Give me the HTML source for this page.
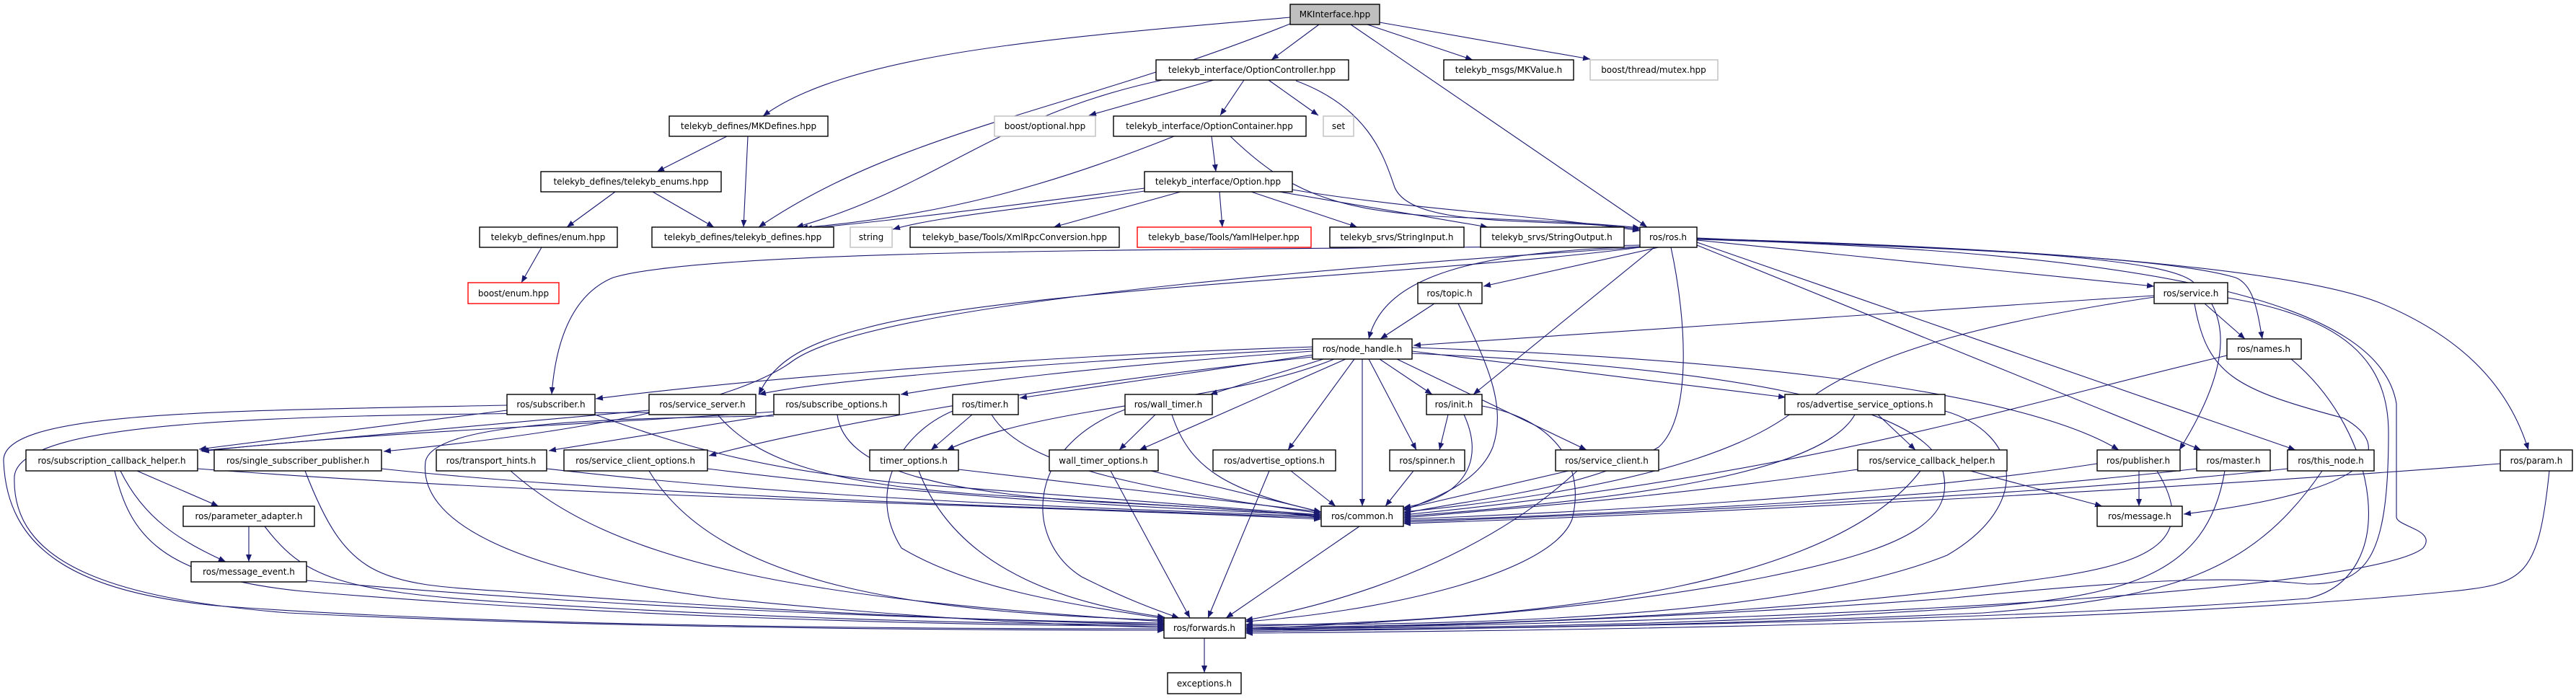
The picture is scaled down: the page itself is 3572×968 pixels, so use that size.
<!DOCTYPE html>
<html><head><meta charset="utf-8"><style>
html,body{margin:0;padding:0;background:#fff;}
svg{display:block}
text{font-family:"DejaVu Sans","Liberation Sans",sans-serif;font-size:12px;fill:#000;text-anchor:middle}
.n{fill:#fff;stroke:#000;stroke-width:1.4}
.g{fill:#fff;stroke:#bfbfbf;stroke-width:1.4}
.r{fill:#fff;stroke:#ff0000;stroke-width:1.4}
.e{fill:none;stroke:#191970;stroke-width:1.1;marker-end:url(#a)}
</style></head><body>
<svg width="3572" height="968" viewBox="0 0 3572 968" xmlns="http://www.w3.org/2000/svg">
<defs><marker id="a" markerUnits="userSpaceOnUse" markerWidth="11" markerHeight="8" refX="10" refY="4" orient="auto"><path d="M0,0 L10,4 L0,8 z" fill="#191970"/></marker></defs>
<g>
<path class="e" d="M1789,24 C1500,50 1180,70 1058,161"/>
<path class="e" d="M1789,33 C1500,150 1250,180 1052,315"/>
<path class="e" d="M1829,34 L1763,83"/>
<path class="e" d="M1873,34 L2284,315"/>
<path class="e" d="M1896,34 L2042,83"/>
<path class="e" d="M1913,31 L2205,82"/>
<path class="e" d="M1008,189 L911,238"/>
<path class="e" d="M1037,189 L1031,315"/>
<path class="e" d="M853,266 L786,315"/>
<path class="e" d="M905,266 L990,315"/>
<path class="e" d="M751,343 L723,392"/>
<path class="e" d="M1612,111 C1380,160 1300,260 1104,315"/>
<path class="e" d="M1683,111 L1510,160"/>
<path class="e" d="M1725,111 L1692,160"/>
<path class="e" d="M1759,111 L1828,160"/>
<path class="e" d="M1797,112 C1900,150 1920,220 1934,260 C1960,320 2150,300 2274,318"/>
<path class="e" d="M1628,189 C1450,260 1300,300 1110,316"/>
<path class="e" d="M1680,189 L1686,238"/>
<path class="e" d="M1706,189 C1780,260 1840,290 1990,300 C2100,305 2200,308 2274,316"/>
<path class="e" d="M1587,261 C1400,285 1250,305 1116,317"/>
<path class="e" d="M1587,265 C1420,290 1300,300 1238,318"/>
<path class="e" d="M1637,266 L1461,315"/>
<path class="e" d="M1691,266 L1695,315"/>
<path class="e" d="M1735,266 L1882,315"/>
<path class="e" d="M1774,266 L2063,315"/>
<path class="e" d="M1792,263 C1950,290 2150,300 2274,320"/>
<path class="e" d="M2300,343 L2057,397"/>
<path class="e" d="M2274,342 C2050,350 1920,380 1898,470"/>
<path class="e" d="M2294,343 L2043,547"/>
<path class="e" d="M2317,343 C2340,450 2345,580 2300,620 C2200,680 2050,690 1946,712"/>
<path class="e" d="M2353,333 L2987,397"/>
<path class="e" d="M2353,330 C2700,345 3000,355 3100,385 C3125,395 3130,430 3137,470"/>
<path class="e" d="M2353,340 L3052,624"/>
<path class="e" d="M2353,336 L3183,624"/>
<path class="e" d="M2353,331 C2900,345 3200,380 3300,420 C3420,470 3480,540 3506,624"/>
<path class="e" d="M2353,331 C2800,345 3000,360 3040,390 C3090,430 3100,500 3022,624"/>
<path class="e" d="M2274,340 C1800,348 1000,340 850,385 C790,410 770,480 765,547"/>
<path class="e" d="M2274,343 C2000,380 1400,400 1200,455 C1100,480 1070,510 1052,547"/>
<path class="e" d="M2274,343 C1700,380 1200,430 1100,500 C1020,560 800,600 532,626"/>
<path class="e" d="M2353,332 C3000,350 3300,420 3323,560 L3323,717 C3323,730 3380,735 3360,760 C3300,810 2700,860 1727,872"/>
<path class="e" d="M3089,413 C3250,440 3312,500 3312,600 C3312,780 3280,810 3200,810 C3100,800 3000,800 2700,830 C2300,860 1900,870 1727,874"/>
<path class="e" d="M3043,421 C3060,520 3100,540 3250,580 C3320,620 3300,680 3028,713"/>
<path class="e" d="M2987,410 C2600,435 2200,460 1960,479"/>
<path class="e" d="M3057,421 L3113,470"/>
<path class="e" d="M2987,412 C2800,440 2600,480 2500,560 C2400,650 2150,690 1946,710"/>
<path class="e" d="M3088,493 C2800,560 2500,660 1946,714"/>
<path class="e" d="M3177,498 C3300,600 3330,800 3200,830 C2800,860 2200,870 1727,876"/>
<path class="e" d="M1989,421 L1914,470"/>
<path class="e" d="M2022,421 C2060,500 2090,560 2070,620 C2050,670 1990,690 1946,708"/>
<path class="e" d="M1820,481 C1400,495 1000,530 826,553"/>
<path class="e" d="M1820,484 C1500,500 1150,525 1052,547"/>
<path class="e" d="M1820,487 C1500,510 1350,530 1249,547"/>
<path class="e" d="M1822,492 L1414,552"/>
<path class="e" d="M1835,498 L1678,547"/>
<path class="e" d="M1850,498 C1700,560 1450,560 1313,624"/>
<path class="e" d="M1866,498 L1580,624"/>
<path class="e" d="M1878,498 L1786,624"/>
<path class="e" d="M1889,498 L1889,702"/>
<path class="e" d="M1898,498 L1964,624"/>
<path class="e" d="M1913,498 L1986,547"/>
<path class="e" d="M1937,498 L2200,624"/>
<path class="e" d="M1958,487 L2476,551"/>
<path class="e" d="M1958,482 C2400,497 2800,540 2938,624"/>
<path class="e" d="M1820,495 C1400,540 1100,600 983,632"/>
<path class="e" d="M1958,490 C2400,510 2650,560 2690,640 C2720,720 2650,760 2450,800 C2200,850 1900,865 1727,872"/>
<path class="e" d="M703,569 L276,623"/>
<path class="e" d="M703,562 C300,570 0,570 5,640 C10,760 100,820 300,840 C700,870 1300,872 1615,872"/>
<path class="e" d="M825,575 C950,620 1050,650 1250,670 C1500,690 1700,705 1832,714"/>
<path class="e" d="M900,569 L278,625"/>
<path class="e" d="M900,572 C400,575 30,580 20,660 C15,780 150,830 400,850 C800,870 1300,874 1615,874"/>
<path class="e" d="M995,575 C1050,640 1150,670 1350,685 C1600,700 1750,708 1832,716"/>
<path class="e" d="M1073,571 C800,590 500,600 280,626"/>
<path class="e" d="M1073,575 L761,625"/>
<path class="e" d="M1161,575 C1170,650 1300,680 1500,695 C1700,705 1780,710 1832,718"/>
<path class="e" d="M1073,577 C800,580 600,590 590,640 C580,720 700,790 1000,830 C1300,860 1500,868 1615,870"/>
<path class="e" d="M190,653 L303,702"/>
<path class="e" d="M167,653 C200,720 250,750 313,779"/>
<path class="e" d="M159,653 C180,740 220,800 420,820 C900,860 1400,868 1615,868"/>
<path class="e" d="M274,650 C800,690 1400,700 1832,720"/>
<path class="e" d="M345,730 L345,779"/>
<path class="e" d="M367,730 C420,800 470,820 700,835 C1100,860 1400,866 1615,866"/>
<path class="e" d="M425,805 C800,840 1300,860 1615,864"/>
<path class="e" d="M423,653 C480,800 520,810 700,820 C1100,850 1400,862 1615,866"/>
<path class="e" d="M529,650 C900,690 1500,705 1832,718"/>
<path class="e" d="M708,653 C850,780 1100,830 1615,862"/>
<path class="e" d="M758,650 C1100,690 1500,705 1832,716"/>
<path class="e" d="M900,653 C1000,820 1300,850 1615,860"/>
<path class="e" d="M981,650 C1300,690 1600,705 1832,714"/>
<path class="e" d="M1348,575 L1291,624"/>
<path class="e" d="M1375,575 C1420,650 1600,680 1832,712"/>
<path class="e" d="M1321,570 C1250,600 1200,680 1250,760 C1350,820 1500,840 1615,858"/>
<path class="e" d="M1329,651 L1832,710"/>
<path class="e" d="M1274,653 C1330,800 1500,840 1615,856"/>
<path class="e" d="M1602,575 L1552,624"/>
<path class="e" d="M1625,575 C1650,650 1700,680 1832,710"/>
<path class="e" d="M1560,568 C1420,620 1420,750 1500,800 C1560,830 1600,845 1635,857"/>
<path class="e" d="M1596,653 L1832,710"/>
<path class="e" d="M1540,653 L1650,857"/>
<path class="e" d="M1790,653 L1852,702"/>
<path class="e" d="M1760,653 L1675,857"/>
<path class="e" d="M1960,653 L1921,702"/>
<path class="e" d="M2008,575 L1996,624"/>
<path class="e" d="M2030,575 C2060,640 2030,690 1946,704"/>
<path class="e" d="M2055,563 C2150,580 2200,640 2180,720 C2150,800 1900,850 1727,862"/>
<path class="e" d="M2175,653 L1946,706"/>
<path class="e" d="M2187,653 C2050,780 1850,840 1727,860"/>
<path class="e" d="M2604,575 L2656,624"/>
<path class="e" d="M2572,575 C2530,650 2300,690 1946,716"/>
<path class="e" d="M2697,570 C2800,600 2820,700 2700,770 C2500,850 2100,868 1727,866"/>
<path class="e" d="M2576,651 C2300,690 2100,705 1946,718"/>
<path class="e" d="M2663,653 C2550,800 2200,860 1727,868"/>
<path class="e" d="M2732,653 L2915,702"/>
<path class="e" d="M2966,653 L2966,702"/>
<path class="e" d="M2908,643 C2600,690 2200,710 1946,720"/>
<path class="e" d="M2991,653 C3050,750 2980,780 2850,800 C2500,850 2100,868 1727,870"/>
<path class="e" d="M3046,650 C2700,690 2200,715 1946,722"/>
<path class="e" d="M3085,653 C3060,800 2950,830 2700,845 C2300,870 2000,870 1727,872"/>
<path class="e" d="M3172,650 C2800,690 2200,715 1946,724"/>
<path class="e" d="M3220,653 C3120,800 3000,830 2750,850 C2300,870 2000,872 1727,874"/>
<path class="e" d="M3467,643 C3000,680 2300,715 1946,726"/>
<path class="e" d="M3535,653 C3520,800 3500,810 3400,820 C3000,860 2300,874 1727,878"/>
<path class="e" d="M1885,730 L1700,857"/>
<path class="e" d="M1670,885 L1670,933"/>
</g>
<g>
<rect x="1789" y="6" width="124" height="28" fill="#bfbfbf" stroke="#000" stroke-width="1.4"/><text x="1851" y="24">MKInterface.hpp</text>
<rect class="n" x="1603" y="83" width="267" height="28"/><text x="1736" y="101">telekyb_interface/OptionController.hpp</text>
<rect class="n" x="2002" y="83" width="180" height="28"/><text x="2092" y="101">telekyb_msgs/MKValue.h</text>
<rect class="g" x="2205" y="83" width="177" height="28"/><text x="2293" y="101">boost/thread/mutex.hpp</text>
<rect class="n" x="928" y="161" width="220" height="28"/><text x="1038" y="179">telekyb_defines/MKDefines.hpp</text>
<rect class="g" x="1379" y="161" width="140" height="28"/><text x="1449" y="179">boost/optional.hpp</text>
<rect class="n" x="1544" y="161" width="267" height="28"/><text x="1677" y="179">telekyb_interface/OptionContainer.hpp</text>
<rect class="g" x="1835" y="161" width="42" height="28"/><text x="1856" y="179">set</text>
<rect class="n" x="750" y="238" width="250" height="28"/><text x="875" y="256">telekyb_defines/telekyb_enums.hpp</text>
<rect class="n" x="1587" y="238" width="205" height="28"/><text x="1689" y="256">telekyb_interface/Option.hpp</text>
<rect class="n" x="665" y="315" width="191" height="28"/><text x="760" y="333">telekyb_defines/enum.hpp</text>
<rect class="n" x="904" y="315" width="252" height="28"/><text x="1030" y="333">telekyb_defines/telekyb_defines.hpp</text>
<rect class="g" x="1179" y="315" width="58" height="28"/><text x="1208" y="333">string</text>
<rect class="n" x="1262" y="315" width="290" height="28"/><text x="1407" y="333">telekyb_base/Tools/XmlRpcConversion.hpp</text>
<rect class="r" x="1577" y="315" width="241" height="28"/><text x="1697" y="333">telekyb_base/Tools/YamlHelper.hpp</text>
<rect class="n" x="1844" y="315" width="186" height="28"/><text x="1937" y="333">telekyb_srvs/StringInput.h</text>
<rect class="n" x="2053" y="315" width="199" height="28"/><text x="2152" y="333">telekyb_srvs/StringOutput.h</text>
<rect class="n" x="2274" y="315" width="79" height="28"/><text x="2313" y="333">ros/ros.h</text>
<rect class="r" x="649" y="392" width="126" height="29"/><text x="712" y="411">boost/enum.hpp</text>
<rect class="n" x="1966" y="392" width="89" height="29"/><text x="2010" y="411">ros/topic.h</text>
<rect class="n" x="2987" y="392" width="102" height="29"/><text x="3038" y="411">ros/service.h</text>
<rect class="n" x="1820" y="470" width="138" height="28"/><text x="1889" y="488">ros/node_handle.h</text>
<rect class="n" x="3088" y="470" width="103" height="28"/><text x="3139" y="488">ros/names.h</text>
<rect class="n" x="703" y="547" width="122" height="28"/><text x="764" y="565">ros/subscriber.h</text>
<rect class="n" x="900" y="547" width="148" height="28"/><text x="974" y="565">ros/service_server.h</text>
<rect class="n" x="1073" y="547" width="174" height="28"/><text x="1160" y="565">ros/subscribe_options.h</text>
<rect class="n" x="1321" y="547" width="91" height="28"/><text x="1366" y="565">ros/timer.h</text>
<rect class="n" x="1560" y="547" width="121" height="28"/><text x="1620" y="565">ros/wall_timer.h</text>
<rect class="n" x="1978" y="547" width="77" height="28"/><text x="2016" y="565">ros/init.h</text>
<rect class="n" x="2475" y="547" width="222" height="28"/><text x="2586" y="565">ros/advertise_service_options.h</text>
<rect class="n" x="36" y="624" width="238" height="29"/><text x="155" y="643">ros/subscription_callback_helper.h</text>
<rect class="n" x="297" y="624" width="232" height="29"/><text x="413" y="643">ros/single_subscriber_publisher.h</text>
<rect class="n" x="605" y="624" width="153" height="29"/><text x="681" y="643">ros/transport_hints.h</text>
<rect class="n" x="782" y="624" width="199" height="29"/><text x="881" y="643">ros/service_client_options.h</text>
<rect class="n" x="1206" y="624" width="123" height="29"/><text x="1267" y="643">timer_options.h</text>
<rect class="n" x="1455" y="624" width="151" height="29"/><text x="1530" y="643">wall_timer_options.h</text>
<rect class="n" x="1682" y="624" width="170" height="29"/><text x="1767" y="643">ros/advertise_options.h</text>
<rect class="n" x="1927" y="624" width="104" height="29"/><text x="1979" y="643">ros/spinner.h</text>
<rect class="n" x="2157" y="624" width="143" height="29"/><text x="2228" y="643">ros/service_client.h</text>
<rect class="n" x="2576" y="624" width="207" height="29"/><text x="2679" y="643">ros/service_callback_helper.h</text>
<rect class="n" x="2908" y="624" width="115" height="29"/><text x="2965" y="643">ros/publisher.h</text>
<rect class="n" x="3046" y="624" width="102" height="29"/><text x="3097" y="643">ros/master.h</text>
<rect class="n" x="3172" y="624" width="120" height="29"/><text x="3232" y="643">ros/this_node.h</text>
<rect class="n" x="3467" y="624" width="100" height="29"/><text x="3517" y="643">ros/param.h</text>
<rect class="n" x="254" y="702" width="182" height="28"/><text x="345" y="720">ros/parameter_adapter.h</text>
<rect class="n" x="1832" y="702" width="114" height="28"/><text x="1889" y="720">ros/common.h</text>
<rect class="n" x="2908" y="702" width="118" height="28"/><text x="2967" y="720">ros/message.h</text>
<rect class="n" x="265" y="779" width="160" height="28"/><text x="345" y="797">ros/message_event.h</text>
<rect class="n" x="1614" y="857" width="113" height="28"/><text x="1670" y="875">ros/forwards.h</text>
<rect class="n" x="1619" y="933" width="102" height="29"/><text x="1670" y="952">exceptions.h</text>
</g>
</svg>
</body></html>
